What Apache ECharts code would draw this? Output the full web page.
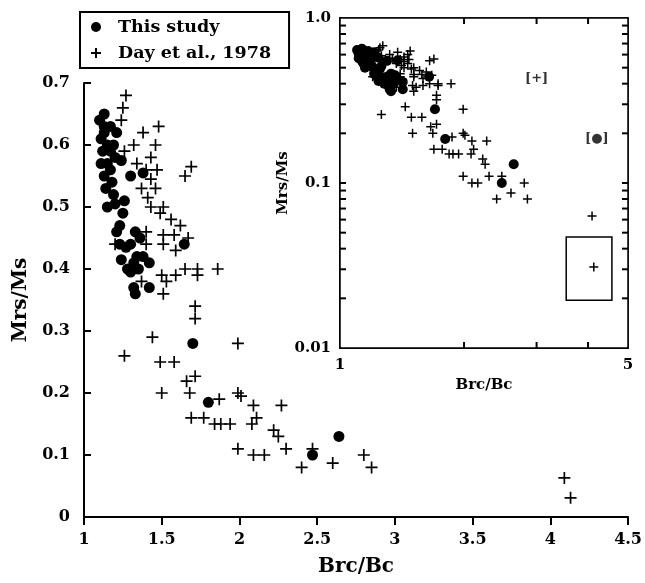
<!DOCTYPE html>
<html><head><meta charset="utf-8">
<script src="https://cdn.jsdelivr.net/npm/echarts@6/dist/echarts.min.js"></script>
<style>html,body{margin:0;padding:0;background:#fff}#c{width:645px;height:583px}</style>
</head><body><div id="c"></div>
<script>
// This study (filled circles)
const studyX = [1.10,1.13,1.13,1.17,1.21,1.11,1.15,1.19,1.12,1.17,1.11,1.15,1.20,1.24,1.13,1.17,1.14,1.18,1.30,1.38,1.19,1.15,1.20,1.26,1.25,1.23,1.33,1.21,1.23,1.27,1.30,1.34,1.38,1.42,1.24,1.32,1.30,1.35,1.32,1.33,1.42,1.28,1.645,1.70,1.80,2.47,2.64,1.13,1.36];
const studyY = [0.64,0.65,0.63,0.63,0.62,0.61,0.60,0.60,0.59,0.59,0.57,0.57,0.58,0.575,0.55,0.56,0.53,0.54,0.55,0.555,0.52,0.50,0.505,0.51,0.49,0.47,0.46,0.46,0.44,0.435,0.44,0.42,0.42,0.41,0.415,0.41,0.395,0.40,0.37,0.36,0.37,0.40,0.44,0.28,0.185,0.10,0.13,0.62,0.45];
// Day et al., 1978 (crosses)
const dayX = [1.27,1.25,1.24,1.48,1.38,1.46,1.32,1.26,1.43,1.34,1.40,1.47,1.69,1.65,1.43,1.37,1.46,1.41,1.51,1.43,1.49,1.56,1.62,1.40,1.51,1.58,1.67,1.40,1.51,1.20,1.59,1.50,1.59,1.65,1.73,1.73,1.86,1.37,1.53,1.51,1.715,1.715,1.44,1.26,1.99,1.49,1.58,1.715,1.66,1.50,1.68,1.87,1.99,2.01,2.09,2.27,1.69,1.77,1.84,1.88,1.94,2.08,2.11,2.22,2.25,1.99,2.09,2.16,2.30,2.47,2.40,2.60,2.80,2.85,4.09,4.13];
const dayY = [0.68,0.66,0.64,0.63,0.62,0.60,0.60,0.59,0.58,0.57,0.56,0.56,0.565,0.55,0.545,0.53,0.53,0.515,0.50,0.50,0.49,0.48,0.47,0.46,0.455,0.455,0.45,0.44,0.44,0.44,0.43,0.39,0.39,0.40,0.40,0.39,0.40,0.38,0.38,0.36,0.34,0.32,0.29,0.26,0.28,0.25,0.25,0.227,0.219,0.20,0.20,0.19,0.20,0.195,0.18,0.18,0.16,0.16,0.15,0.15,0.15,0.15,0.16,0.14,0.13,0.11,0.10,0.10,0.11,0.11,0.08,0.087,0.10,0.08,0.063,0.031];
// axis ticks / labels
const mainXRange = [1, 4.5], mainXStep = 0.5;
const mainYRange = [0, 0.7], mainYStep = 0.1;
const insetXRange = [1, 5];
const insetYRange = [0.01, 1];
const insetXTicks = [2, 3, 4];
const insetXLabels = [1, 5];
const insetYLabels = [0.01, 0.1, 1];
const insetYMinor = [0.02,0.03,0.04,0.05,0.06,0.07,0.08,0.09,0.1,0.2,0.3,0.4,0.5,0.6,0.7,0.8,0.9];
// inset annotations
const noteText = ['[+]', '[\u25CF]'];
const noteX = [3.0, 4.2];
const noteY = [0.43, 0.187];
const boxCorners = [3.54, 0.047, 4.57, 0.0195];

const FONT = 'DejaVu Serif';
const plus = 'path://M5,0 L5,10 M0,5 L10,5';
const zip = (xs, ys) => xs.map((x, i) => [x, ys[i]]);
const lab = (size) => ({fontFamily: FONT, fontWeight: 'bold', fontSize: size, color: '#000'});
const line = (w) => ({show: true, lineStyle: {color: '#000', width: w}});
const TICK = 6;

const chart = echarts.init(document.getElementById('c'));
chart.setOption({
  animation: false,
  backgroundColor: '#fff',
  legend: {
    left: 80, top: 12, orient: 'vertical', itemGap: 8,
    itemWidth: 10, itemHeight: 10,
    padding: [6, 18, 6, 10],
    borderColor: '#000', borderWidth: 2,
    textStyle: Object.assign(lab(17.5), {padding: [0, 0, 0, 12]}),
    data: [{name: 'This study', icon: 'circle'}, {name: 'Day et al., 1978', icon: plus}]
  },
  grid: [
    {left: 84, top: 83, right: 8, bottom: 66},
    {left: 340, top: 18, right: 17, bottom: 235, show: true, backgroundColor: '#fff', borderColor: '#000', borderWidth: 1.5, z: 1}
  ],
  xAxis: [
    {type: 'value', gridIndex: 0, min: mainXRange[0], max: mainXRange[1], interval: mainXStep,
     axisLine: line(2), axisTick: {show: true, inside: false, length: 8, lineStyle: {color: '#000', width: 2}},
     axisLabel: Object.assign(lab(16), {margin: 15}), splitLine: {show: false},
     name: 'Brc/Bc', nameLocation: 'middle', nameGap: 40, nameTextStyle: lab(20)},
    {type: 'log', gridIndex: 1, min: insetXRange[0], max: insetXRange[1], logBase: 10,
     axisLine: line(2), axisTick: {show: false},
     axisLabel: Object.assign(lab(15), {margin: 10, customValues: insetXLabels}), splitLine: {show: false},
     name: 'Brc/Bc', nameLocation: 'middle', nameGap: 24, nameTextStyle: lab(15)},
    {type: 'log', gridIndex: 1, position: 'top', min: insetXRange[0], max: insetXRange[1], logBase: 10,
     axisLine: line(1.5), axisTick: {show: false}, axisLabel: {show: false}, splitLine: {show: false}}
  ],
  yAxis: [
    {type: 'value', gridIndex: 0, min: mainYRange[0], max: mainYRange[1], interval: mainYStep,
     axisLine: line(2), axisTick: {show: true, inside: true, length: 7, lineStyle: {color: '#000', width: 2}},
     axisLabel: Object.assign(lab(16), {margin: 14}), splitLine: {show: false},
     name: 'Mrs/Ms', nameLocation: 'middle', nameGap: 52, nameRotate: 90, nameTextStyle: lab(20)},
    {type: 'log', gridIndex: 1, min: insetYRange[0], max: insetYRange[1], logBase: 10,
     axisLine: line(2), axisTick: {show: false},
     axisLabel: Object.assign(lab(15), {margin: 9, customValues: insetYLabels, formatter: v => (v === 1 ? '1.0' : String(v))}),
     splitLine: {show: false},
     name: 'Mrs/Ms', nameLocation: 'middle', nameGap: 40, nameRotate: 90, nameTextStyle: lab(15)},
    {type: 'log', gridIndex: 1, position: 'right', min: insetYRange[0], max: insetYRange[1], logBase: 10,
     axisLine: line(1.5), axisTick: {show: false}, axisLabel: {show: false}, splitLine: {show: false}}
  ],
  series: [
    {name: 'This study', type: 'scatter', xAxisIndex: 0, yAxisIndex: 0, symbol: 'circle', symbolSize: 11,
     itemStyle: {color: '#000', opacity: 1}, data: zip(studyX, studyY)},
    {name: 'Day et al., 1978', type: 'scatter', xAxisIndex: 0, yAxisIndex: 0, symbol: plus, symbolSize: 12,
     itemStyle: {color: 'rgba(0,0,0,0)', borderColor: '#000', borderWidth: 1.7, opacity: 1}, data: zip(dayX, dayY)},
    {name: 'This study', type: 'scatter', xAxisIndex: 1, yAxisIndex: 1, symbol: 'circle', symbolSize: 10,
     itemStyle: {color: '#000', opacity: 1}, data: zip(studyX, studyY)},
    {name: 'Day et al., 1978', type: 'scatter', xAxisIndex: 1, yAxisIndex: 1, symbol: plus, symbolSize: 9,
     itemStyle: {color: 'rgba(0,0,0,0)', borderColor: '#000', borderWidth: 1.5, opacity: 1}, data: zip(dayX, dayY)},
    {name: 'notes', type: 'scatter', xAxisIndex: 1, yAxisIndex: 1, symbolSize: 0, silent: true,
     label: {show: true, position: 'inside', formatter: p => p.name, fontFamily: FONT, fontWeight: 'bold', fontSize: 13, color: '#000'},
     data: noteText.map((t, i) => ({name: t, value: [noteX[i], noteY[i]]}))},
    // rectangle around the isolated point
    {name: 'box', type: 'custom', xAxisIndex: 1, yAxisIndex: 1, silent: true,
     encode: {x: [0, 2], y: [1, 3]},
     data: [boxCorners],
     renderItem: (params, api) => {
       const p = api.coord([api.value(0), api.value(1)]), q = api.coord([api.value(2), api.value(3)]);
       return {type: 'rect', shape: {x: p[0], y: p[1], width: q[0] - p[0], height: q[1] - p[1]},
               style: {fill: 'none', stroke: '#000', lineWidth: 1.5}};
     }}
  ]
});

// inset tick marks (inward, all four sides), placed through the inset's log scales
const toPx = (x, y) => chart.convertToPixel({xAxisIndex: 1, yAxisIndex: 1}, [x, y]);
const tickEls = [];
insetYMinor.forEach(v => {
  const a = toPx(insetXRange[0], v), b = toPx(insetXRange[1], v);
  tickEls.push({type: 'rect', z: 100, silent: true, shape: {x: a[0], y: a[1] - 1, width: TICK, height: 2}, style: {fill: '#000'}});
  tickEls.push({type: 'rect', z: 100, silent: true, shape: {x: b[0] - TICK, y: b[1] - 1, width: TICK, height: 2}, style: {fill: '#000'}});
});
insetXTicks.forEach(v => {
  const a = toPx(v, insetYRange[0]), b = toPx(v, insetYRange[1]);
  tickEls.push({type: 'rect', z: 100, silent: true, shape: {x: a[0] - 1, y: a[1] - TICK, width: 2, height: TICK}, style: {fill: '#000'}});
  tickEls.push({type: 'rect', z: 100, silent: true, shape: {x: b[0] - 1, y: b[1], width: 2, height: TICK}, style: {fill: '#000'}});
});
chart.setOption({graphic: tickEls});
</script></body></html>
